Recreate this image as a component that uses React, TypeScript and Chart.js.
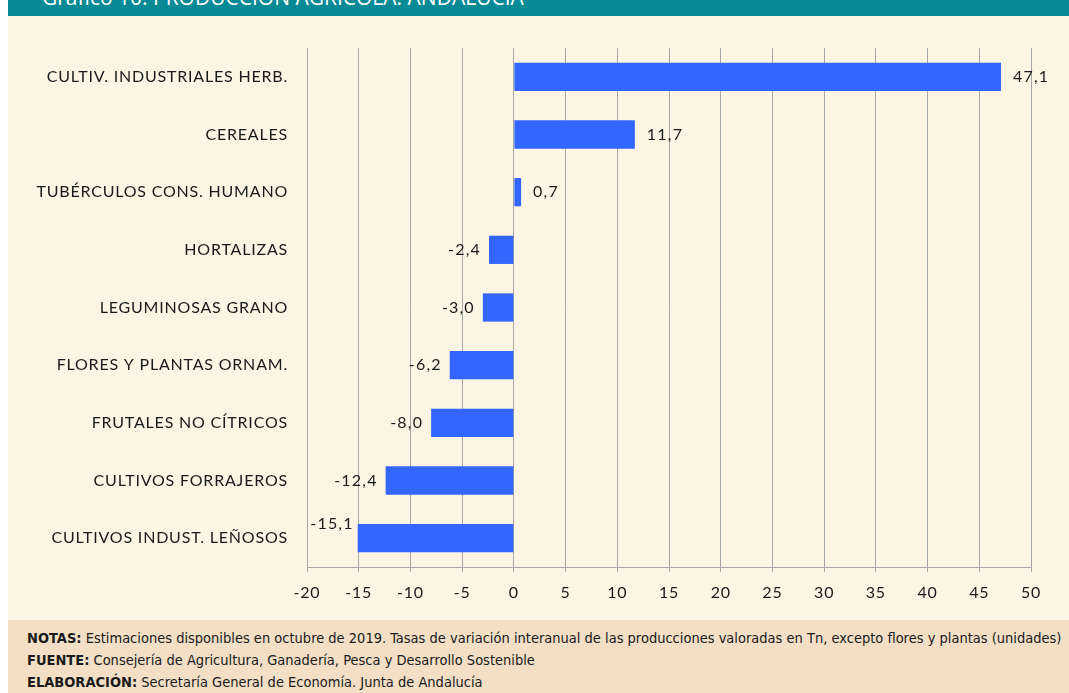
import React, { useEffect, useRef } from "react";
import { Chart, registerables } from "chart.js";

Chart.register(...registerables);

const categories = [
  "CULTIV. INDUSTRIALES HERB.",
  "CEREALES",
  "TUBÉRCULOS CONS. HUMANO",
  "HORTALIZAS",
  "LEGUMINOSAS GRANO",
  "FLORES Y PLANTAS ORNAM.",
  "FRUTALES NO CÍTRICOS",
  "CULTIVOS FORRAJEROS",
  "CULTIVOS INDUST. LEÑOSOS",
];
const values = [47.1, 11.7, 0.7, -2.4, -3.0, -6.2, -8.0, -12.4, -15.1];
const xMin = -20;
const xMax = 50;
const xStep = 5;

const title = "Gráfico 10. PRODUCCIÓN AGRÍCOLA. ANDALUCÍA";
const notes = [
  ["NOTAS:", " Estimaciones disponibles en octubre de 2019. Tasas de variación interanual de las producciones valoradas en Tn, excepto flores y plantas (unidades)"],
  ["FUENTE:", " Consejería de Agricultura, Ganadería, Pesca y Desarrollo Sostenible"],
  ["ELABORACIÓN:", " Secretaría General de Economía. Junta de Andalucía"],
];

const fmt = (v: number) => v.toFixed(1).replace(".", ",");

const spacingPlugin = {
  id: "letterSpacing",
  beforeDraw(chart: any) {
    (chart.ctx as any).letterSpacing = "0.8px";
  },
};

const labelPlugin = {
  id: "valueLabels",
  afterDatasetsDraw(chart: any) {
    const ctx = chart.ctx;
    const meta = chart.getDatasetMeta(0);
    const left = chart.chartArea.left;
    ctx.save();
    ctx.font = "16px Lato, 'Open Sans', sans-serif";
    (ctx as any).letterSpacing = "1.2px";
    ctx.fillStyle = "#1a1a1a";
    ctx.textBaseline = "middle";
    meta.data.forEach((bar: any, i: number) => {
      const v = values[i];
      const txt = fmt(v);
      if (v >= 0) {
        ctx.textAlign = "left";
        ctx.fillText(txt, bar.x + 12, bar.y);
      } else {
        ctx.textAlign = "right";
        const w = ctx.measureText(txt).width;
        if (bar.x - 8 - w < left + 20) {
          ctx.fillText(txt, bar.x - 4, bar.y - bar.height / 2);
        } else {
          ctx.fillText(txt, bar.x - 8, bar.y);
        }
      }
    });
    ctx.restore();
  },
};

export default function App() {
  const ref = useRef<HTMLCanvasElement>(null);
  useEffect(() => {
    if (!ref.current) return;
    const chart = new Chart(ref.current, {
      type: "bar",
      data: {
        labels: categories,
        datasets: [
          {
            data: values,
            backgroundColor: "#3366FF",
            borderWidth: 0,
            barPercentage: 0.49,
            categoryPercentage: 1,
          },
        ],
      },
      options: {
        indexAxis: "y",
        animation: false,
        responsive: false,
        maintainAspectRatio: false,
        layout: { padding: { top: 32, right: 38, left: 0, bottom: 0 } },
        plugins: { legend: { display: false }, tooltip: { enabled: false } },
        scales: {
          x: {
            type: "linear",
            min: xMin,
            max: xMax,
            afterBuildTicks: (axis: any) => {
              const t = [];
              for (let v = xMin; v <= xMax; v += xStep) t.push({ value: v });
              axis.ticks = t;
            },
            afterFit: (axis: any) => {
              axis.height = 53;
            },
            grid: {
              color: "#a6a6a6",
              lineWidth: 1,
              tickLength: 5,
              drawTicks: true,
            },
            border: { color: "#a6a6a6", width: 1 },
            ticks: {
              color: "#1a1a1a",
              font: { family: "Lato, 'Open Sans', sans-serif", size: 16 },
              padding: 11,
              maxRotation: 0,
              callback: (v: any) => String(v),
            },
          },
          y: {
            type: "category",
            afterFit: (axis: any) => {
              axis.width = 299;
            },
            grid: { display: false, drawTicks: false },
            border: { display: true, color: "#a6a6a6", width: 1 },
            ticks: {
              color: "#1a1a1a",
              font: { family: "Lato, 'Open Sans', sans-serif", size: 16 },
              padding: 19,
              autoSkip: false,
            },
          },
        },
      },
      plugins: [spacingPlugin, labelPlugin],
    } as any);
    return () => chart.destroy();
  }, []);

  return (
    <div
      style={{
        position: "absolute",
        left: 8,
        top: 0,
        width: 1061,
        height: 693,
        overflow: "hidden",
        background: "#FDF5E4",
      }}
    >
      <div
        style={{
          position: "absolute",
          left: 0,
          top: 0,
          width: 1061,
          height: 16,
          background: "#078A96",
          overflow: "hidden",
        }}
      >
        <div
          style={{
            position: "absolute",
            left: 34,
            top: -17,
            color: "#ffffff",
            font: "21px 'Open Sans', sans-serif",
            whiteSpace: "nowrap",
          }}
        >
          {title}
        </div>
      </div>
      <canvas
        ref={ref}
        width={1061}
        height={604}
        style={{ position: "absolute", left: 0, top: 16, width: 1061, height: 604 }}
      />
      <div
        style={{
          position: "absolute",
          left: 0,
          top: 620,
          width: 1061,
          height: 73,
          background: "#F2DFC6",
        }}
      >
        {notes.map((n, i) => (
          <div
            key={i}
            style={{
              position: "absolute",
              left: 19,
              top: 10 + i * 22,
              font: "14.5px 'Liberation Sans Narrow', 'DejaVu Sans Condensed', sans-serif",
              color: "#1a1a1a",
              whiteSpace: "nowrap",
            }}
          >
            <b>{n[0]}</b>
            {n[1]}
          </div>
        ))}
      </div>
    </div>
  );
}
